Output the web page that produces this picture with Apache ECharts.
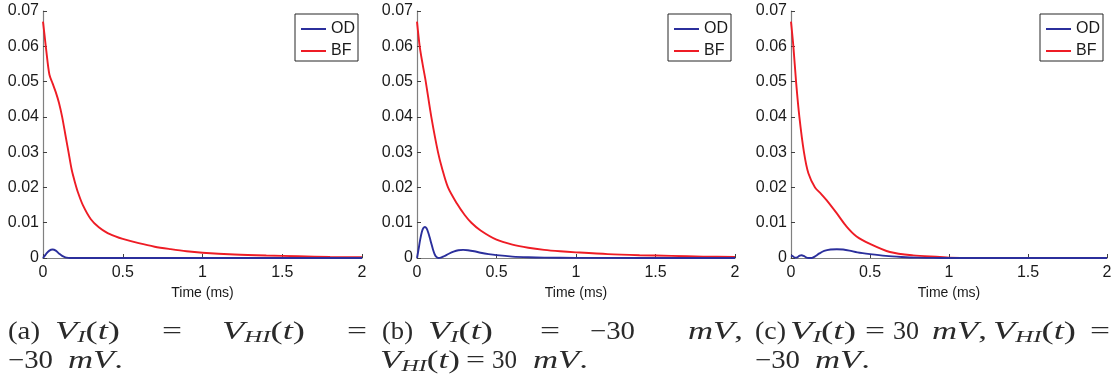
<!DOCTYPE html>
<html>
<head>
<meta charset="utf-8">
<script src="https://cdn.jsdelivr.net/npm/echarts@6/dist/echarts.min.js"></script>
<style>
html,body{margin:0;padding:0;background:#fff;}
#chart{width:1120px;height:379px;}
</style>
</head>
<body>
<div id="chart"></div>
<script>
// ---------- data (time in ms) ----------
const xTicks = [0, 0.5, 1, 1.5, 2];
const yTicks = [0, 0.01, 0.02, 0.03, 0.04, 0.05, 0.06, 0.07];
const seriesNames = ['OD', 'BF'];
const panelCaptions = ['(a)', '(b)', '(c)'];

// Panel (a)
const aBF_t = [0, 0.01, 0.02, 0.04, 0.06, 0.08, 0.10, 0.12, 0.14, 0.16, 0.18, 0.20, 0.22, 0.25, 0.30, 0.35, 0.40, 0.45, 0.50, 0.60, 0.70, 0.80, 0.90, 1.00, 1.20, 1.40, 1.60, 1.80, 2.00];
const aBF_v = [0.067, 0.063, 0.059, 0.052, 0.0495, 0.047, 0.044, 0.040, 0.035, 0.030, 0.025, 0.0215, 0.0185, 0.015, 0.011, 0.0087, 0.0072, 0.0062, 0.0054, 0.0042, 0.0032, 0.0025, 0.0019, 0.0015, 0.0010, 0.0007, 0.0005, 0.0003, 0.0002];
const aOD_t = [0, 0.02, 0.04, 0.06, 0.08, 0.10, 0.12, 0.14, 0.16, 0.18, 0.5, 1.0, 1.5, 2.0];
const aOD_v = [0, 0.0012, 0.0021, 0.0024, 0.0021, 0.0013, 0.0006, 0.0002, 0.00005, 0, 0, 0, 0, 0];

// Panel (b)
const bBF_t = [0, 0.017, 0.035, 0.055, 0.09, 0.132, 0.16, 0.195, 0.25, 0.30, 0.342, 0.40, 0.50, 0.60, 0.70, 0.80, 0.90, 1.00, 1.20, 1.40, 1.60, 1.80, 2.00];
const bBF_v = [0.067, 0.060, 0.055, 0.050, 0.040, 0.030, 0.025, 0.020, 0.0155, 0.0122, 0.010, 0.0078, 0.0052, 0.0038, 0.0029, 0.0023, 0.0019, 0.0016, 0.0011, 0.0008, 0.0006, 0.0004, 0.0003];
const bOD_t = [0, 0.01, 0.02, 0.03, 0.04, 0.05, 0.06, 0.07, 0.08, 0.09, 0.10, 0.11, 0.12, 0.135, 0.15, 0.17, 0.20, 0.23, 0.26, 0.29, 0.32, 0.36, 0.40, 0.45, 0.50, 0.60, 0.70, 0.80, 1.00, 2.00];
const bOD_v = [0, 0.0025, 0.0052, 0.0073, 0.0085, 0.0088, 0.0084, 0.0073, 0.0058, 0.0041, 0.0025, 0.0012, 0.0004, 0.0000, 0.0001, 0.0005, 0.0012, 0.0018, 0.0022, 0.0023, 0.0022, 0.0019, 0.0015, 0.0011, 0.0008, 0.0004, 0.0002, 0.0001, 0.00003, 0];

// Panel (c)
const cBF_t = [0, 0.015, 0.032, 0.053, 0.082, 0.11, 0.152, 0.19, 0.225, 0.289, 0.352, 0.415, 0.50, 0.626, 0.773, 0.942, 1.00, 1.20, 2.00];
const cBF_v = [0.067, 0.060, 0.050, 0.040, 0.030, 0.024, 0.020, 0.0182, 0.0164, 0.0127, 0.0089, 0.0061, 0.0040, 0.0017, 0.00075, 0.0003, 0.0001, 0.00003, 0];
const cOD_t = [0, 0.012, 0.025, 0.04, 0.055, 0.067, 0.08, 0.095, 0.11, 0.13, 0.15, 0.18, 0.21, 0.25, 0.29, 0.33, 0.37, 0.42, 0.50, 0.60, 0.70, 0.80, 0.90, 1.00, 2.00];
const cOD_v = [0.0007, 0.0005, 0.0001, 0.0002, 0.0007, 0.0008, 0.0006, 0.0002, 0, 0, 0.0004, 0.0013, 0.0020, 0.0024, 0.0025, 0.0024, 0.0021, 0.0016, 0.0011, 0.0006, 0.0003, 0.0001, 0.00003, 0, 0];

// ---------- layout / style ----------
const SANS = 'Liberation Sans, Arial, Helvetica, sans-serif';
const SERIF = 'Liberation Serif, Times New Roman, serif';
const BLUE = '#2b2f9c';
const RED = '#ee1c25';
const TXT = '#2a2a2a';
const grids = [
  { left: 43, top: 11, width: 319, height: 247 },
  { left: 417, top: 11, width: 318, height: 247 },
  { left: 791, top: 11, width: 316, height: 247 }
];
const panels = [
  { OD: [aOD_t, aOD_v], BF: [aBF_t, aBF_v] },
  { OD: [bOD_t, bOD_v], BF: [bBF_t, bBF_v] },
  { OD: [cOD_t, cOD_v], BF: [cBF_t, cBF_v] }
];
const pairs = (t, v) => t.map((x, k) => [x, v[k]]);

const xAxes = grids.map((g, i) => ({
  type: 'value', gridIndex: i, min: xTicks[0], max: xTicks[xTicks.length - 1], interval: 0.5,
  name: 'Time (ms)', nameLocation: 'middle', nameGap: 25,
  nameTextStyle: { fontFamily: SANS, fontSize: 14, color: '#1a1a1a' },
  axisLine: { show: true, lineStyle: { color: '#808080', width: 1.2 } },
  axisTick: { show: true, inside: true, length: 4, lineStyle: { color: '#404040' } },
  axisLabel: { fontFamily: SANS, fontSize: 16, color: '#1a1a1a', margin: 7 },
  splitLine: { show: false }
}));
const yAxes = grids.map((g, i) => ({
  type: 'value', gridIndex: i, min: yTicks[0], max: yTicks[yTicks.length - 1], interval: 0.01,
  axisLine: { show: true, lineStyle: { color: '#808080', width: 1.2 } },
  axisTick: { show: true, inside: true, length: 4, lineStyle: { color: '#404040' } },
  axisLabel: { fontFamily: SANS, fontSize: 16, color: '#1a1a1a', margin: 4,
    formatter: v => String(+v.toFixed(2)) },
  splitLine: { show: false }
}));
const series = [];
panels.forEach((p, i) => {
  seriesNames.forEach(name => {
    series.push({
      type: 'line', name, xAxisIndex: i, yAxisIndex: i,
      data: pairs(p[name][0], p[name][1]),
      showSymbol: false, symbol: 'none', smooth: 0.3, clip: true,
      lineStyle: { width: 1.9, color: name === 'OD' ? BLUE : RED },
      itemStyle: { color: name === 'OD' ? BLUE : RED },
      z: name === 'OD' ? 3 : 2
    });
  });
});
const LINE_ICON = 'path://M0,0L0,0.001L0.001,0ZM0,6.1L25,6.1L25,7.9L0,7.9ZM25,14L25,13.999L24.999,14Z';
const legends = grids.map(g => ({
  data: seriesNames, orient: 'vertical',
  right: 1120 - (g.left + g.width) + 4, top: 14,
  icon: LINE_ICON,
  itemWidth: 25, itemHeight: 14, itemGap: 6,
  padding: [7, 3, 2, 6],
  borderColor: '#262626', borderWidth: 1, backgroundColor: '#fff',
  textStyle: { fontFamily: SANS, fontSize: 16, color: '#1a1a1a', lineHeight: 14 },
  selectedMode: false
}));

// ---------- captions (LaTeX-like) ----------
const FS = 25;
const segFont = {
  n: FS + 'px ' + SERIF,
  i: 'italic ' + FS + 'px ' + SERIF,
  s: 'italic 17px ' + SERIF
};
const rich = {
  n: { fontFamily: SERIF, fontSize: FS, lineHeight: 28, fill: TXT },
  i: { fontFamily: SERIF, fontSize: FS, fontStyle: 'italic', lineHeight: 28, fill: TXT },
  s: { fontFamily: SERIF, fontSize: 17, fontStyle: 'italic', lineHeight: 15, verticalAlign: 'bottom', fill: TXT }
};
const VI = [['i', 'V'], ['s', 'I'], ['n', '('], ['i', 't'], ['n', ')']];
const VHI = [['i', 'V'], ['s', 'HI'], ['n', '('], ['i', 't'], ['n', ')']];
const EQ = [['n', '=']];
const M30 = [['n', '−'], ['n', '30']];
const P30 = [['n', '30']];
const MVdot = [['i', 'm'], ['i', 'V'], ['n', '.']];
const MVcom = [['i', 'm'], ['i', 'V'], ['n', ',']];
const lbl = k => [['n', panelCaptions[k]]];
const L1 = 332.5, L2 = 361.5;
// [xStart, xEnd, row, segments]
const captionTokens = [
  [8, 40, L1, lbl(0)], [55, 120, L1, VI], [162, 182, L1, EQ], [222, 305, L1, VHI], [347, 367, L1, EQ],
  [8, 53, L2, M30], [68, 123, L2, MVdot],
  [382, 413, L1, lbl(1)], [428, 493, L1, VI], [540, 560, L1, EQ], [590, 635, L1, M30], [688, 743, L1, MVcom],
  [380, 460, L2, VHI], [466, 485, L2, EQ], [492, 517, L2, P30], [533, 588, L2, MVdot],
  [755, 786, L1, lbl(2)], [790, 856, L1, VI], [865, 885, L1, EQ], [893, 919, L1, P30], [932, 987, L1, MVcom], [993, 1076, L1, VHI], [1090, 1110, L1, EQ],
  [755, 800, L2, M30], [815, 870, L2, MVdot]
];
const mctx = document.createElement('canvas').getContext('2d');
function naturalWidth(segs) {
  let w = 0;
  segs.forEach(([st, tx]) => { mctx.font = segFont[st]; w += mctx.measureText(tx).width; });
  return w;
}
const graphics = captionTokens.map(([x0, x1, y, segs]) => ({
  type: 'text', x: x0, y, silent: true,
  scaleX: (x1 - x0) / naturalWidth(segs),
  style: {
    text: segs.map(([st, tx]) => '{' + st + '|' + tx + '}').join(''),
    rich, verticalAlign: 'middle', align: 'left', fill: TXT, font: FS + 'px ' + SERIF
  }
}));

const chart = echarts.init(document.getElementById('chart'), null, { renderer: 'canvas' });
chart.setOption({
  animation: false,
  backgroundColor: '#fff',
  grid: grids,
  xAxis: xAxes,
  yAxis: yAxes,
  legend: legends,
  series,
  graphic: graphics
});
</script>
</body>
</html>
